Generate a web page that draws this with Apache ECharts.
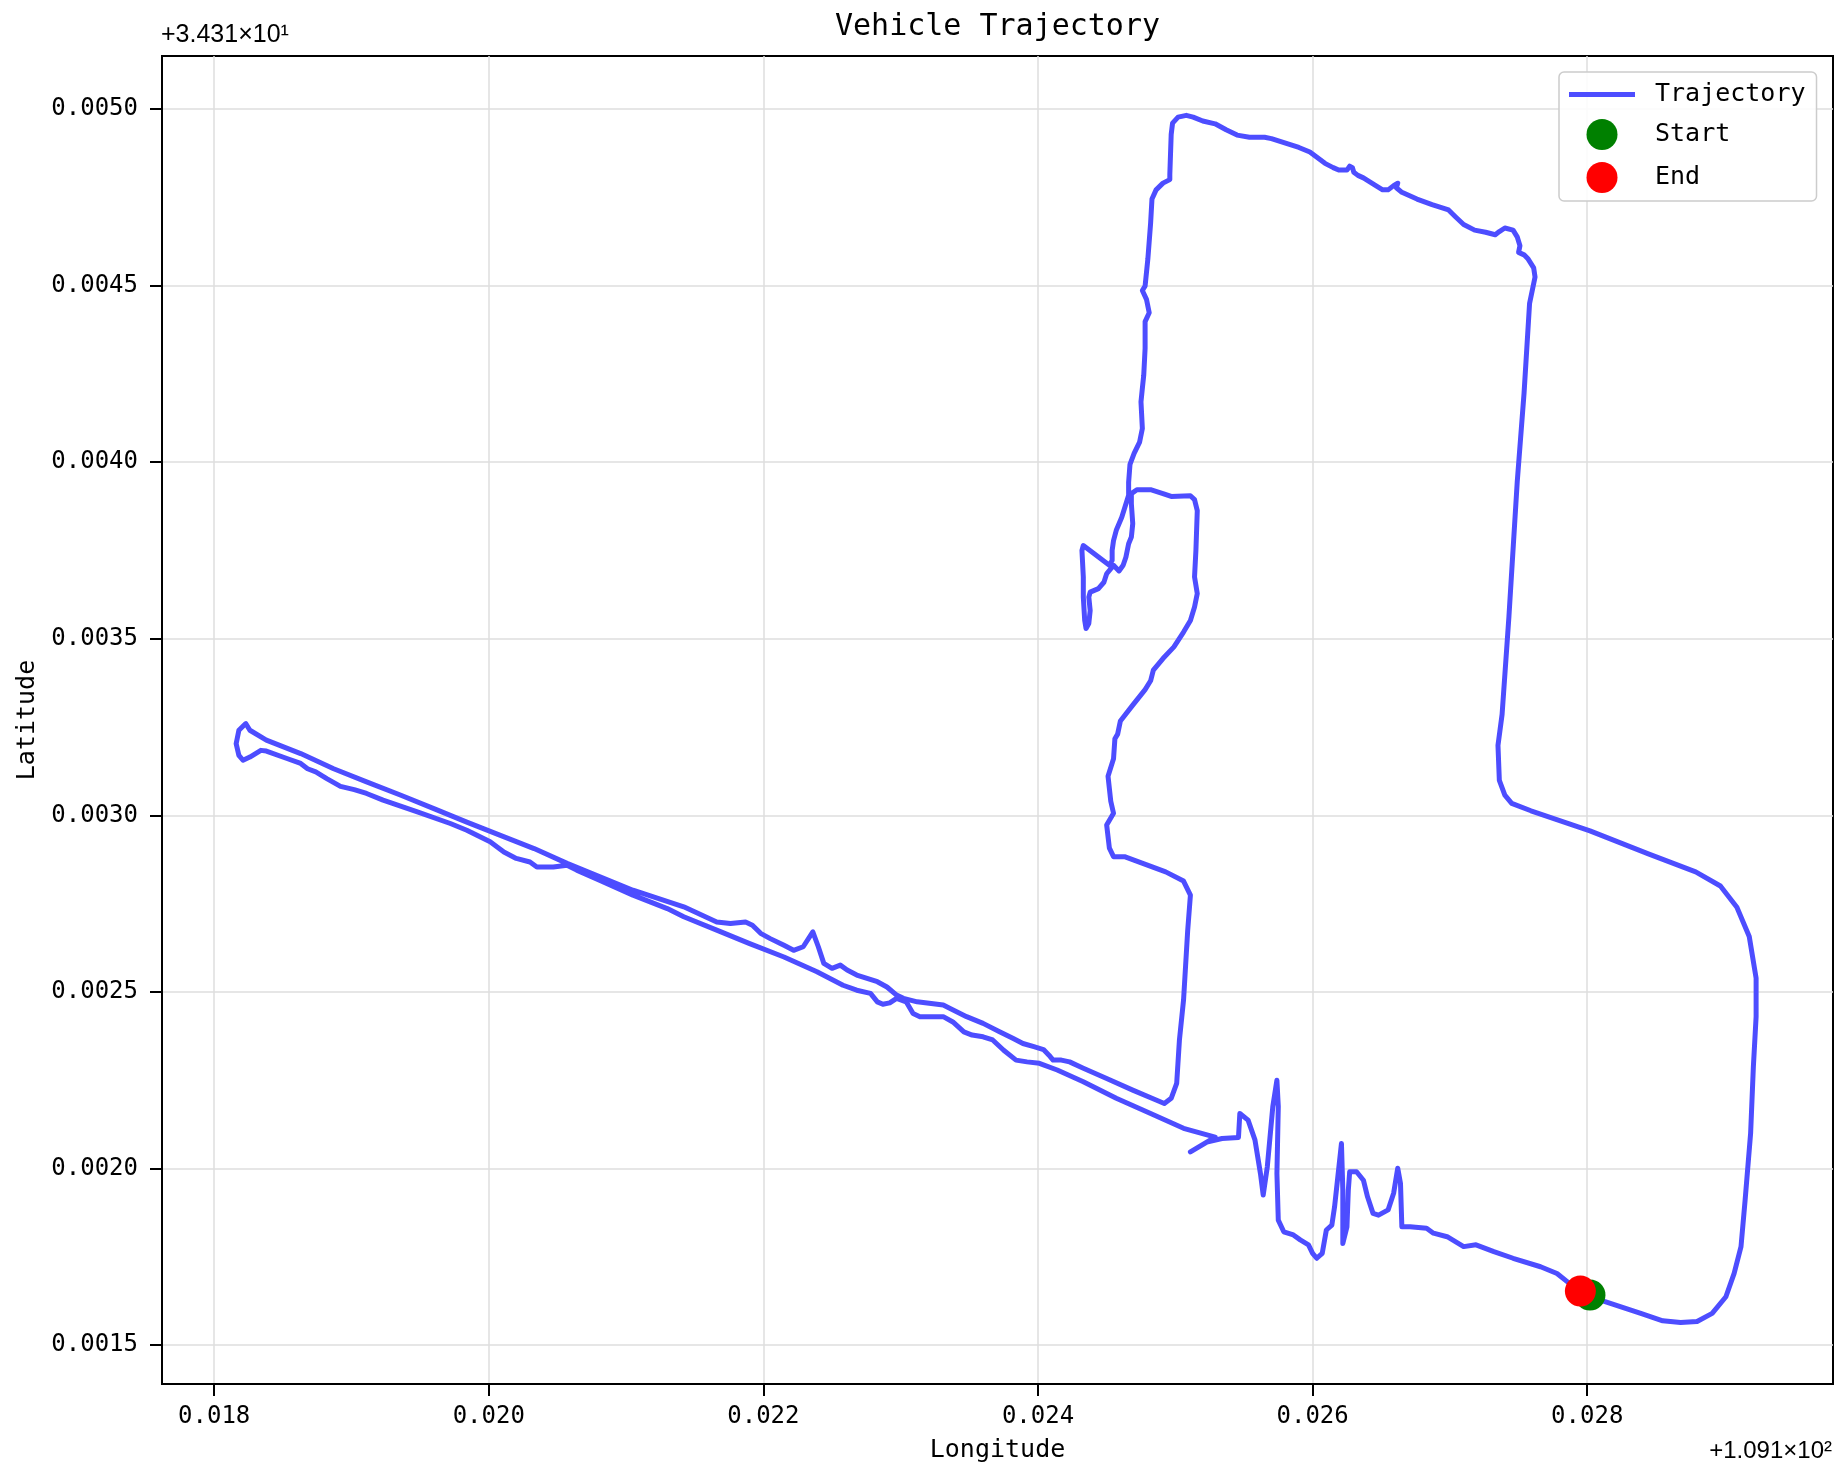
<!DOCTYPE html>
<html>
<head>
<meta charset="utf-8">
<script src="https://cdn.jsdelivr.net/npm/echarts@6/dist/echarts.min.js"></script>
<style>
html,body{margin:0;padding:0;background:#ffffff;}
#chart{width:1847px;height:1480px;}
</style>
</head>
<body>
<div id="chart"></div>
<script>
// ---------- text ----------
const chartTitle = 'Vehicle Trajectory';
const xAxisName = 'Longitude';
const yAxisName = 'Latitude';
const xOffsetText = '+1.091×10²';
const yOffsetText = '+3.431×10¹';
const seriesNames = ['Trajectory', 'Start', 'End'];

// ---------- tick values (offset from 109.1 / 34.31) ----------
const xTicks = [0.018, 0.020, 0.022, 0.024, 0.026, 0.028];
const yTicks = [0.0015, 0.0020, 0.0025, 0.0030, 0.0035, 0.0040, 0.0045, 0.0050];

// ---------- trajectory (longitude - 109.1, latitude - 34.31) ----------
const trajLon = [
0.02802,0.02813,0.02839,0.02855,0.02868,0.02880,0.02891,0.02901,0.02907,0.02912,
0.02915,0.02919,0.02921,0.02923,0.02923,0.02918,0.02909,0.02897,0.02879,0.02845,
0.02802,0.02759,0.02745,0.02740,0.02736,0.02735,0.02738,0.02743,0.02749,0.02754,
0.02758,0.02762,0.02761,0.02757,0.02754,0.02750,0.02751,0.02749,0.02746,0.02740,
0.02736,0.02733,0.02726,0.02718,0.02710,0.02704,0.02699,0.02687,0.02676,0.02665,
0.02661,0.02662,0.02659,0.02655,0.02651,0.02646,0.02637,0.02633,0.02630,0.02629,
0.02627,0.02625,0.02619,0.02615,0.02609,0.02598,0.02590,0.02582,0.02570,0.02565,
0.02554,0.02545,0.02537,0.02529,0.02520,0.02513,0.02508,0.02502,0.02498,0.02497,
0.02496,0.02496,0.02491,0.02486,0.02483,0.02482,0.02480,0.02478,0.02476,0.02479,
0.02481,0.02478,0.02478,0.02478,0.02477,0.02476,0.02475,0.02476,0.02474,0.02470,
0.02467,0.02466,0.02466,0.02461,0.02457,0.02455,0.02454,0.02454,0.02452,0.02433,
0.02432,0.02433,0.02433,0.02434,0.02435,0.02437,0.02438,0.02437,0.02438,0.02444,
0.02448,0.02450,0.02455,0.02459,0.02462,0.02464,0.02466,0.02468,0.02469,0.02468,
0.02468,0.02472,0.02482,0.02491,0.02497,0.02511,0.02514,0.02516,0.02515,0.02514,
0.02516,0.02514,0.02511,0.02506,0.02499,0.02491,0.02484,0.02482,0.02478,0.02469,
0.02460,0.02458,0.02456,0.02455,0.02451,0.02453,0.02455,0.02450,0.02452,0.02455,
0.02463,0.02493,0.02506,0.02511,0.02509,0.02506,0.02503,0.02501,0.02497,0.02492,
0.02486,0.02469,0.02450,0.02433,0.02423,0.02417,0.02411,0.02408,0.02404,0.02397,
0.02389,0.02382,0.02372,0.02360,0.02348,0.02336,0.02331,0.02312,0.02302,0.02297,
0.02290,0.02283,0.02268,0.02261,0.02256,0.02250,0.02244,0.02240,0.02236,0.02229,
0.02222,0.02215,0.02205,0.02198,0.02192,0.02187,0.02176,0.02166,0.02142,0.02105,
0.02081,0.02057,0.02033,0.02008,0.01984,0.01960,0.01936,0.01911,0.01887,0.01863,
0.01838,0.01826,0.01823,0.01818,0.01816,0.01818,0.01821,0.01826,0.01834,0.01838,
0.01853,0.01863,0.01868,0.01874,0.01882,0.01892,0.01902,0.01911,0.01923,0.01948,
0.01972,0.01984,0.02001,0.02011,0.02020,0.02030,0.02035,0.02047,0.02057,0.02064,
0.02081,0.02105,0.02130,0.02142,0.02166,0.02190,0.02215,0.02239,0.02258,0.02268,
0.02278,0.02283,0.02287,0.02292,0.02297,0.02304,0.02309,0.02314,0.02331,0.02338,
0.02346,0.02352,0.02360,0.02367,0.02375,0.02384,0.02392,0.02401,0.02414,0.02433,
0.02457,0.02482,0.02506,0.02529,0.02511,0.02523,0.02534,0.02546,0.02547,0.02553,
0.02558,0.02562,0.02564,0.02567,0.02571,0.02574,0.02575,0.02574,0.02575,0.02579,
0.02586,0.02591,0.02597,0.02600,0.02603,0.02607,0.02610,0.02614,0.02616,0.02621,
0.02622,0.02622,0.02625,0.02626,0.02627,0.02632,0.02637,0.02640,0.02644,0.02648,
0.02655,0.02659,0.02662,0.02664,0.02665,0.02671,0.02683,0.02688,0.02698,0.02710,
0.02719,0.02732,0.02746,0.02766,0.02778,0.02787,0.02795
];
const trajLat = [
0.001642,0.001623,0.001590,0.001569,0.001564,0.001567,0.001590,0.001637,0.001703,0.001779,
0.001911,0.002100,0.002288,0.002430,0.002539,0.002657,0.002740,0.002800,0.002840,0.002890,
0.002956,0.003013,0.003034,0.003057,0.003099,0.003198,0.003286,0.003564,0.003943,0.004196,
0.004449,0.004524,0.004550,0.004575,0.004587,0.004594,0.004613,0.004638,0.004657,0.004663,
0.004653,0.004644,0.004651,0.004657,0.004673,0.004695,0.004714,0.004729,0.004745,0.004764,
0.004777,0.004790,0.004783,0.004771,0.004771,0.004783,0.004805,0.004812,0.004821,0.004834,
0.004838,0.004827,0.004827,0.004834,0.004846,0.004878,0.004891,0.004901,0.004916,0.004920,
0.004920,0.004926,0.004941,0.004958,0.004966,0.004977,0.004982,0.004977,0.004960,0.004928,
0.004815,0.004800,0.004790,0.004771,0.004745,0.004676,0.004575,0.004499,0.004486,0.004461,
0.004423,0.004398,0.004348,0.004322,0.004246,0.004209,0.004171,0.004095,0.004057,0.004025,
0.003994,0.003943,0.003906,0.003844,0.003807,0.003778,0.003750,0.003722,0.003708,0.003764,
0.003750,0.003675,0.003618,0.003552,0.003529,0.003543,0.003580,0.003618,0.003632,0.003642,
0.003660,0.003684,0.003708,0.003692,0.003708,0.003731,0.003769,0.003788,0.003826,0.003882,
0.003911,0.003922,0.003922,0.003911,0.003903,0.003905,0.003894,0.003863,0.003750,0.003675,
0.003628,0.003590,0.003552,0.003519,0.003477,0.003444,0.003411,0.003381,0.003356,0.003312,
0.003267,0.003230,0.003217,0.003160,0.003111,0.003040,0.003006,0.002973,0.002907,0.002883,
0.002883,0.002840,0.002814,0.002774,0.002673,0.002477,0.002364,0.002241,0.002199,0.002184,
0.002194,0.002222,0.002255,0.002284,0.002302,0.002307,0.002307,0.002321,0.002337,0.002345,
0.002354,0.002368,0.002387,0.002411,0.002430,0.002453,0.002463,0.002472,0.002482,0.002491,
0.002514,0.002529,0.002548,0.002562,0.002576,0.002567,0.002581,0.002628,0.002670,0.002628,
0.002618,0.002632,0.002651,0.002666,0.002689,0.002698,0.002694,0.002698,0.002741,0.002788,
0.002826,0.002864,0.002906,0.002944,0.002981,0.003019,0.003057,0.003095,0.003132,0.003175,
0.003213,0.003241,0.003260,0.003241,0.003203,0.003170,0.003156,0.003165,0.003184,0.003182,
0.003161,0.003147,0.003132,0.003123,0.003104,0.003082,0.003073,0.003062,0.003043,0.003010,
0.002977,0.002958,0.002925,0.002896,0.002878,0.002868,0.002854,0.002854,0.002859,0.002845,
0.002816,0.002774,0.002736,0.002713,0.002675,0.002637,0.002599,0.002557,0.002519,0.002505,
0.002496,0.002472,0.002465,0.002469,0.002482,0.002472,0.002439,0.002430,0.002430,0.002415,
0.002387,0.002378,0.002373,0.002364,0.002335,0.002307,0.002302,0.002298,0.002279,0.002246,
0.002199,0.002156,0.002114,0.002089,0.002047,0.002075,0.002085,0.002088,0.002156,0.002137,
0.002081,0.001986,0.001925,0.002005,0.002175,0.002250,0.002175,0.001986,0.001854,0.001821,
0.001812,0.001798,0.001784,0.001760,0.001746,0.001760,0.001826,0.001840,0.001892,0.002071,
0.001939,0.001788,0.001835,0.001939,0.001991,0.001991,0.001967,0.001920,0.001873,0.001868,
0.001883,0.001930,0.002001,0.001958,0.001835,0.001835,0.001831,0.001817,0.001807,0.001779,
0.001784,0.001765,0.001746,0.001722,0.001703,0.001675,0.001653
];
const startPoint = [0.02802, 0.001642];
const endPoint = [0.02795, 0.001653];

// ---------- build ----------
if (trajLon.length !== trajLat.length) console.error('length mismatch', trajLon.length, trajLat.length);
const trajData = trajLon.map((x, i) => [x, trajLat[i]]);

const MONO = '"DejaVu Sans Mono", monospace';
const SANS = '"Liberation Sans", Arial, sans-serif';
const lineColor = '#4d4dff';

const chart = echarts.init(document.getElementById('chart'), null, {renderer: 'canvas', width: 1847, height: 1480});

const option = {
  animation: false,
  backgroundColor: '#ffffff',
  title: {
    text: chartTitle,
    left: 997.5, top: 12, textAlign: 'center', padding: 0,
    textStyle: {fontFamily: MONO, fontSize: 30, fontWeight: 'normal', color: '#000'}
  },
  grid: {
    left: 162, right: 14, top: 56, bottom: 96,
    show: true, borderColor: '#000', borderWidth: 2, backgroundColor: 'transparent'
  },
  legend: {
    data: [
      {name: seriesNames[0], icon: 'path://M0,0L66,0L66,5L0,5Z'},
      {name: seriesNames[1], icon: 'circle'},
      {name: seriesNames[2], icon: 'circle'}
    ],
    orient: 'vertical', left: 1559, top: 72,
    padding: [10, 11, 8, 10],
    itemWidth: 66, itemHeight: 31, itemGap: 12,
    symbolKeepAspect: true,
    backgroundColor: 'rgba(255,255,255,0.85)', borderColor: '#cccccc', borderWidth: 1.5, borderRadius: 5,
    selectedMode: false,
    textStyle: {fontFamily: MONO, fontSize: 25, color: '#000', padding: [0, 0, 0, 15]}
  },
  xAxis: {
    type: 'value', min: 0.01762, max: 0.02979,
    name: xAxisName, nameLocation: 'middle', nameGap: 54,
    nameTextStyle: {fontFamily: MONO, fontSize: 25, color: '#000'},
    axisLine: {show: true, onZero: false, lineStyle: {color: '#000', width: 2}},
    axisTick: {show: true, inside: false, length: 12, customValues: xTicks, lineStyle: {color: '#000', width: 2}},
    axisLabel: {customValues: xTicks, formatter: v => v.toFixed(3), margin: 21, fontFamily: MONO, fontSize: 24, color: '#000'},
    splitLine: {show: true, lineStyle: {color: '#dedede', width: 1.5}}
  },
  yAxis: {
    type: 'value', min: 0.00139, max: 0.00515,
    name: yAxisName, nameLocation: 'middle', nameGap: 122, nameRotate: 90,
    nameTextStyle: {fontFamily: MONO, fontSize: 25, color: '#000'},
    axisLine: {show: true, onZero: false, lineStyle: {color: '#000', width: 2}},
    axisTick: {show: true, inside: false, length: 12, customValues: yTicks, lineStyle: {color: '#000', width: 2}},
    axisLabel: {customValues: yTicks, formatter: v => v.toFixed(4), margin: 24, fontFamily: MONO, fontSize: 24, color: '#000'},
    splitLine: {show: true, lineStyle: {color: '#dedede', width: 1.5}}
  },
  series: [
    {
      name: seriesNames[0], type: 'line', data: trajData,
      showSymbol: false, symbol: 'none', silent: true, z: 2,
      lineStyle: {color: lineColor, width: 5, cap: 'round', join: 'round'},
      itemStyle: {color: lineColor}
    },
    {
      name: seriesNames[1], type: 'scatter', data: [startPoint],
      symbol: 'circle', symbolSize: 31, z: 3, itemStyle: {color: '#008000', opacity: 1}
    },
    {
      name: seriesNames[2], type: 'scatter', data: [endPoint],
      symbol: 'circle', symbolSize: 31, z: 4, itemStyle: {color: '#ff0000', opacity: 1}
    }
  ],
  graphic: [
    {type: 'text', left: 161, top: 23, style: {text: yOffsetText, font: '25px ' + SANS, fill: '#000'}},
    {type: 'text', right: 15, top: 1439, style: {text: xOffsetText, font: '24px ' + SANS, fill: '#000'}}
  ]
};
chart.setOption(option);
</script>
</body>
</html>
